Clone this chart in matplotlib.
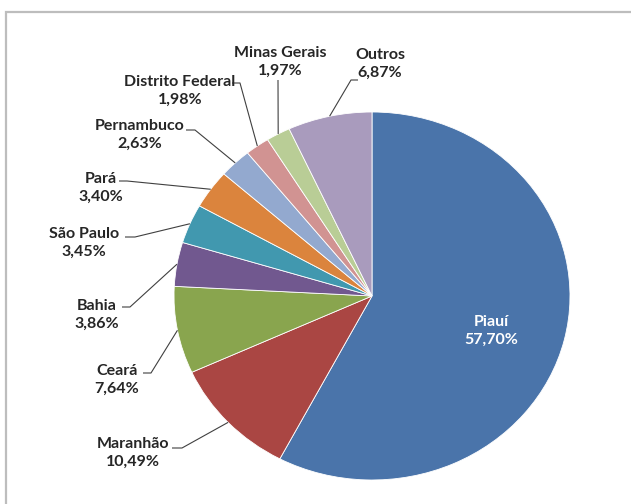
import numpy as np
import matplotlib
matplotlib.use("Agg")
import matplotlib.pyplot as plt
from matplotlib.patches import Rectangle

# ---- data ----
states = ["Piauí", "Maranhão", "Ceará", "Bahia", "São Paulo", "Pará",
          "Pernambuco", "Distrito Federal", "Minas Gerais", "Outros"]
shares = [57.70, 10.49, 7.64, 3.86, 3.45, 3.40, 2.63, 1.98, 1.97, 6.87]
colors = ["#4A74AA", "#AA4643", "#89A54E", "#71588F", "#4198AF",
          "#DB843D", "#93A9CF", "#D19392", "#B9CD96", "#A99BBD"]

W, H = 631, 504
CX, CY, RX, RY = 372.0, 296.0, 198.0, 184.0

def px(x, y):
    return ((x - CX) / RX, (CY - y) / RY)

plt.rcParams['font.family'] = ['Lato', 'DejaVu Sans']
fig = plt.figure(figsize=(W / 100, H / 100), dpi=100)
fig.patch.set_facecolor("white")

# chart border (top and left edges visible)
fig.patches.append(Rectangle((6 / W, -0.1), 1.2, 1 - 12 / H + 0.1,
                             transform=fig.transFigure, fill=False,
                             edgecolor="#BDBDBD", linewidth=1.6))

ax = fig.add_axes([0, 0, 1, 1])
wedges, _ = ax.pie(shares, colors=colors, startangle=90, counterclock=False,
                   radius=1.0, wedgeprops=dict(edgecolor="white", linewidth=0.6))
ax.set_aspect("auto")
ax.set_xlim((0 - CX) / RX, (W - CX) / RX)
ax.set_ylim((CY - H) / RY, CY / RY)
ax.axis("off")

# label placement (pixel coords of text centre) and leader start points
label_pos = {
    "Piauí": (491, 331),
    "Maranhão": (133, 453),
    "Ceará": (117, 380),
    "Bahia": (97, 315),
    "São Paulo": (84, 243),
    "Pará": (101, 188),
    "Pernambuco": (140, 135),
    "Distrito Federal": (180, 91),
    "Minas Gerais": (280, 62),
    "Outros": (380, 64),
}
leader_start = {
    "Maranhão": [(172, 448), (182, 448)],
    "Ceará": [(143, 373), (151, 373)],
    "Bahia": [(122, 307), (130, 307)],
    "São Paulo": [(125, 237), (135, 237)],
    "Pará": [(119, 181), (127, 181)],
    "Pernambuco": [(186, 130), (195, 130)],
    "Distrito Federal": [(232, 83), (240, 83)],
    "Minas Gerais": [(278, 80)],
    "Outros": [(358, 80), (351, 80)],
}

total = sum(shares)
cum = 0.0
for name, v in zip(states, shares):
    mid = cum + v / 2
    cum += v
    ang = np.deg2rad(90 - 360 * mid / total)
    ex, ey = np.cos(ang), np.sin(ang)
    txt = f"{name}\n{v:.2f}%".replace(".", ",")
    lx, ly = px(*label_pos[name])
    col = "white" if name == "Piauí" else "#262626"
    ax.text(lx, ly, txt, ha="center", va="center", fontsize=11.5,
            fontweight="bold", color=col, linespacing=1.35)
    if name in leader_start:
        pts = [px(*p) for p in leader_start[name]] + [(ex, ey)]
        xs, ys = zip(*pts)
        ax.plot(xs, ys, color="#404040", lw=0.8, solid_capstyle="butt")

fig.savefig("out.png", dpi=100, facecolor="white")
